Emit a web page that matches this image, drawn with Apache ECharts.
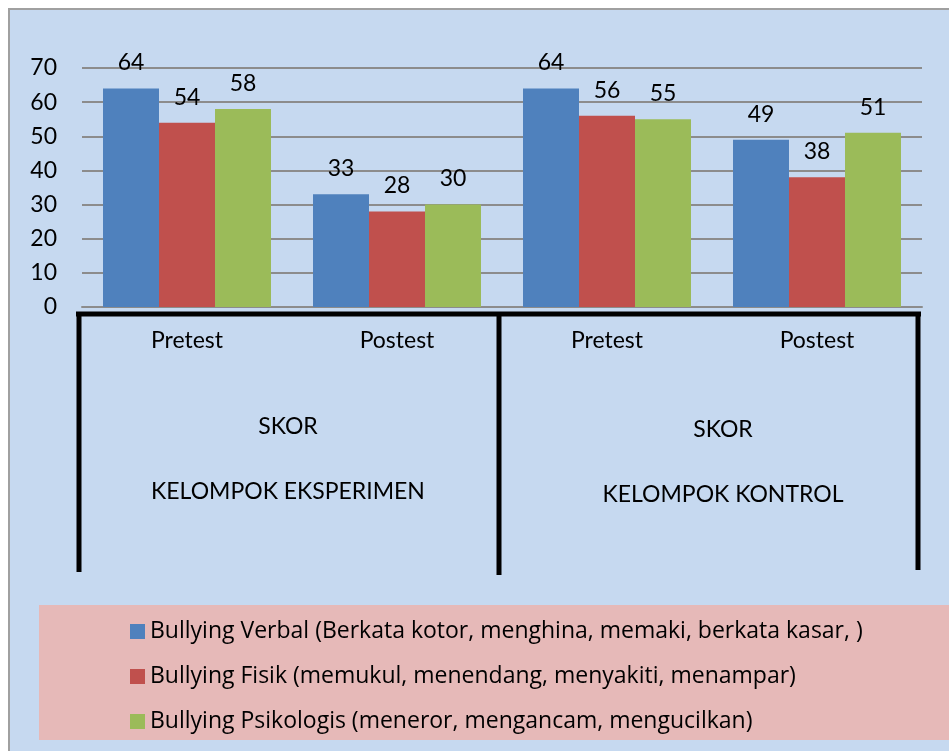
<!DOCTYPE html>
<html>
<head>
<meta charset="utf-8">
<script src="https://cdn.jsdelivr.net/npm/echarts@6/dist/echarts.min.js"></script>
<style>
html,body{margin:0;padding:0;background:#ffffff;}
#c{width:949px;height:751px;}
</style>
</head>
<body>
<div id="c"></div>
<script>
const categories = ['Pretest', 'Postest', 'Pretest', 'Postest'];
const groupLabels = ['SKOR', 'KELOMPOK EKSPERIMEN', 'SKOR', 'KELOMPOK KONTROL'];
const seriesNames = [
  'Bullying Verbal (Berkata kotor, menghina, memaki, berkata kasar, )',
  'Bullying Fisik (memukul, menendang, menyakiti, menampar)',
  'Bullying Psikologis (meneror, mengancam, mengucilkan)'
];
const verbal = [64, 33, 64, 49];
const fisik = [54, 28, 56, 38];
const psikologis = [58, 30, 55, 51];
const yTicks = [0, 10, 20, 30, 40, 50, 60, 70];

const FONT = 'Lato';
const LFONT = 'Open Sans';
const FS = 23;
const colors = ['#4f81bd', '#c0504d', '#9bbb59'];
const values = [verbal, fisik, psikologis];

const chart = echarts.init(document.getElementById('c'), null, {renderer: 'canvas'});

const series = seriesNames.map((n, i) => ({
  name: n,
  type: 'bar',
  data: values[i],
  barGap: '0%',
  barCategoryGap: '20%',
  itemStyle: {color: colors[i]},
  label: {
    show: true,
    position: 'top',
    distance: 14,
    color: '#000',
    fontFamily: FONT,
    fontSize: FS
  }
}));

const option = {
  backgroundColor: '#ffffff',
  animation: false,
  color: colors,
  grid: {left: 82, right: 27, top: 68, bottom: 444},
  xAxis: {
    type: 'category',
    data: categories,
    axisLine: {lineStyle: {color: '#8c8c8c', width: 2}},
    axisTick: {show: false},
    axisLabel: {color: '#000', fontFamily: FONT, fontSize: FS, margin: 22}
  },
  yAxis: {
    type: 'value',
    min: yTicks[0],
    max: yTicks[yTicks.length - 1],
    interval: 10,
    axisLine: {show: false},
    axisTick: {show: false},
    axisLabel: {color: '#000', fontFamily: FONT, fontSize: FS, margin: 25},
    splitLine: {lineStyle: {color: '#8c8c8c', width: 2}}
  },
  legend: {
    orient: 'vertical',
    left: 125,
    top: 613,
    itemWidth: 15,
    itemHeight: 15,
    itemGap: 18,
    icon: 'rect',
    data: seriesNames,
    textStyle: {color: '#000', fontFamily: LFONT, fontSize: 23, lineHeight: 27}
  },
  graphic: [
    {type: 'rect', z: -10, shape: {x: 9, y: 9, width: 960, height: 760},
     style: {fill: '#c6d9f0', stroke: '#a0a0a0', lineWidth: 2}},
    {type: 'rect', z: -9, shape: {x: 39, y: 605, width: 920, height: 135},
     style: {fill: '#e6b9b8'}},
    {type: 'line', z: 10, shape: {x1: 76, y1: 314, x2: 921, y2: 314}, style: {stroke: '#000', lineWidth: 5}},
    {type: 'line', z: 10, shape: {x1: 79, y1: 312, x2: 79, y2: 572}, style: {stroke: '#000', lineWidth: 5}},
    {type: 'line', z: 10, shape: {x1: 499, y1: 312, x2: 499, y2: 575}, style: {stroke: '#000', lineWidth: 5}},
    {type: 'line', z: 10, shape: {x1: 918, y1: 312, x2: 918, y2: 570}, style: {stroke: '#000', lineWidth: 5}},
    {type: 'text', z: 10, style: {x: 288, y: 427, text: groupLabels[0], textAlign: 'center', textVerticalAlign: 'middle', fill: '#000', font: FS + 'px ' + FONT}},
    {type: 'text', z: 10, style: {x: 288, y: 492, text: groupLabels[1], textAlign: 'center', textVerticalAlign: 'middle', fill: '#000', font: FS + 'px ' + FONT}},
    {type: 'text', z: 10, style: {x: 723, y: 430, text: groupLabels[2], textAlign: 'center', textVerticalAlign: 'middle', fill: '#000', font: FS + 'px ' + FONT}},
    {type: 'text', z: 10, style: {x: 723, y: 495, text: groupLabels[3], textAlign: 'center', textVerticalAlign: 'middle', fill: '#000', font: FS + 'px ' + FONT}}
  ],
  series: series
};
chart.setOption(option);
</script>
</body>
</html>
